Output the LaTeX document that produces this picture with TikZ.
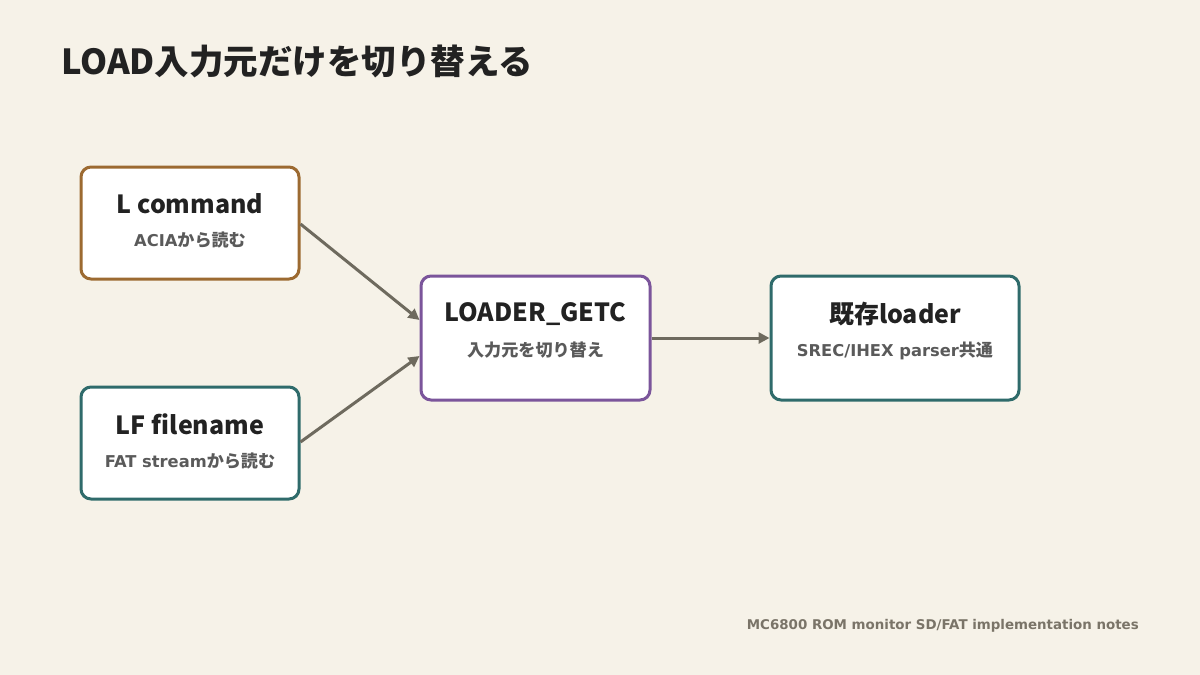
\documentclass[tikz,border=0pt]{standalone}
\usepackage{fontspec}
\setmainfont{Noto Sans CJK JP}
\newfontfamily\lat{DejaVu Sans}
\usetikzlibrary{arrows.meta}
\definecolor{bg}{HTML}{F6F2E8}
\definecolor{brownc}{HTML}{9C6A31}
\definecolor{tealc}{HTML}{2F6B6B}
\definecolor{purplec}{HTML}{7B559B}
\definecolor{arrowc}{HTML}{6E6A5E}
\definecolor{titlec}{HTML}{222222}
\definecolor{subc}{HTML}{5A5A5A}
\definecolor{footc}{HTML}{7A7468}
\newcommand{\sublat}[1]{{\lat\fontsize{16.3}{19}\selectfont #1}}
\tikzset{
  box/.style={draw, line width=3pt, rounded corners=10pt, fill=white, inner sep=0pt},
  boxtitle/.style={font=\fontsize{25}{30}\selectfont\bfseries, text=titlec, inner sep=0pt},
  boxsub/.style={font=\fontsize{17.1}{20}\selectfont\bfseries, text=subc, inner sep=0pt},
  conn/.style={draw=arrowc, line width=3pt, -{Triangle[length=11pt,width=11pt]}, shorten >=0pt}
}
\begin{document}
\begin{tikzpicture}[x=1pt,y=-1pt]
\fill[bg] (0,0) rectangle (1200,675);
\useasboundingbox (0,0) rectangle (1200,675);
\node[anchor=base west, inner sep=0pt, font=\fontsize{34.5}{40}\selectfont\bfseries, text=titlec] (title) at (61,74) {LOAD入力元だけを切り替える};

\node[box, draw=brownc, minimum width=218pt, minimum height=112pt] (lc) at (190,223) {};
\node[boxtitle] (lct) at (190,204) {L command};
\node[boxsub] (lcs) at (190,240) {\sublat{ACIA}から読む};

\node[box, draw=tealc, minimum width=218pt, minimum height=112pt] (lf) at (190,443) {};
\node[boxtitle] (lft) at (190,424) {LF filename};
\node[boxsub] (lfs) at (190,461) {\sublat{FAT stream}から読む};

\node[box, draw=purplec, minimum width=229pt, minimum height=124pt] (lg) at (535.5,338) {};
\node[boxtitle] (lgt) at (535.5,314) {LOADER\_GETC};
\node[boxsub] (lgs) at (535.5,350) {入力元を切り替え};

\node[box, draw=tealc, minimum width=248pt, minimum height=124pt] (el) at (895,338) {};
\node[boxtitle] (elt) at (895,314) {既存loader};
\node[boxsub] (els) at (895,351) {\sublat{SREC/IHEX parser}共通};

\draw[conn] ([yshift=-1pt]lc.east) -- ([yshift=18pt]lg.west);
\draw[conn] ([yshift=1pt]lf.east) -- ([yshift=-18pt]lg.west);
\draw[conn] (lg.east) -- (el.west);

\node[anchor=east, inner sep=0pt, font=\lat\fontsize{13.4}{16}\selectfont\bfseries, text=footc] (foot) at (1139,626) {MC6800 ROM monitor SD/FAT implementation notes};
\end{tikzpicture}
\end{document}
